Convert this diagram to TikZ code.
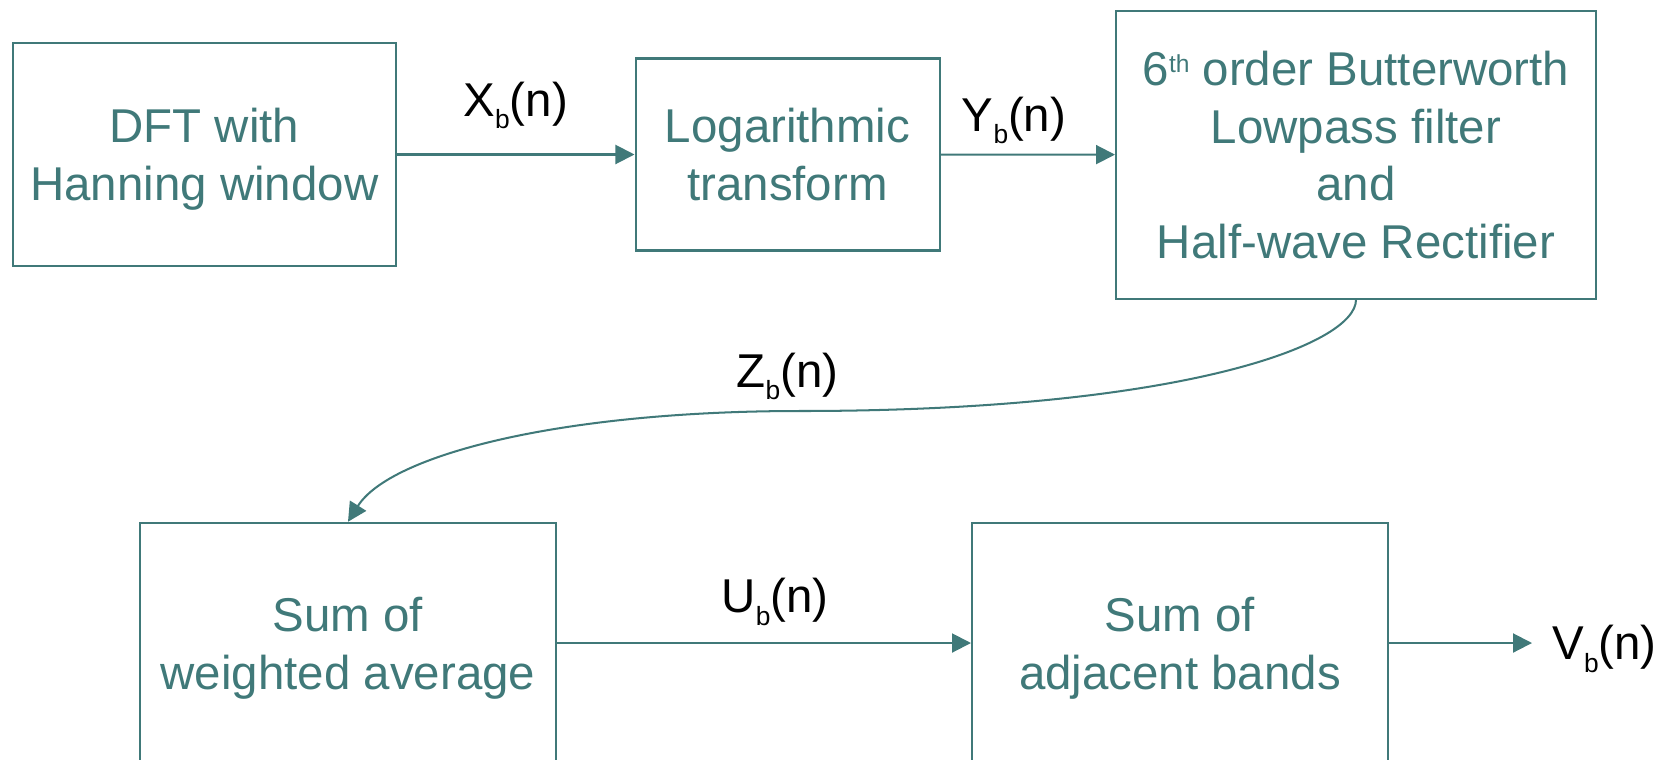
\documentclass[tikz,border=0pt]{standalone}
\usepackage{fontspec}
\setmainfont{Liberation Sans}
\usetikzlibrary{arrows.meta}
\definecolor{boxteal}{RGB}{64,121,121}
\def\bsub{\raisebox{-7.2pt}{\fontsize{15}{15}\selectfont b}}
\def\ordth{\raisebox{7.6pt}{\fontsize{14}{14}\selectfont th}}

\begin{document}
\begin{tikzpicture}[x=1cm,y=1cm,font=\fontsize{27}{32.8}\selectfont,
box/.style={draw=boxteal,line width=1.15pt,text=boxteal,align=center,text depth=0pt,inner sep=0pt},
arr/.style={-{Triangle[length=.38cm,width=.38cm]},line width=1.15pt,draw=boxteal,fill=boxteal},
lbl/.style={text=black,inner sep=0pt}]
\useasboundingbox(0,0)rectangle(33.38,-15.18);

\node[box,minimum width=7.66cm,minimum height=4.47cm](dft)at(4.088,-3.09){DFT with\\Hanning window};
\node[box,minimum width=6.08cm,minimum height=3.84cm](log)at(15.75,-3.09){Logarithmic\\transform};
\node[box,minimum width=9.6cm,minimum height=5.76cm](filt)at(27.12,-3.094){6\ordth{} order Butterworth\\Lowpass filter\\and\\Half-wave Rectifier};
\node[box,minimum width=8.32cm,minimum height=4.81cm](wavg)at(6.96,-12.86){Sum of\\weighted average};
\node[box,minimum width=8.32cm,minimum height=4.81cm](adj)at(23.6,-12.86){Sum of\\adjacent bands};
\node[lbl,inner ysep=.3333em,inner xsep=.4cm,anchor=west](vout)at(30.64,-12.984){V\bsub(n)};

\draw[arr](dft)--node[lbl,above=.49cm]{X\bsub(n)}(log);
\draw[arr](log)--node[lbl,above=.19cm,xshift=-.275cm]{Y\bsub(n)}(filt);
\draw[arr,fill=none](filt.south)..controls(27.12,-6.9)and(23.6,-8.22)..(16,-8.22)node[lbl,above=.2cm,xshift=-.25cm]{Z\bsub(n)}
  ..controls(11.2,-8.22)and(7.8,-9.1)..(wavg.north);
\draw[arr](wavg)--node[lbl,above=.33cm,xshift=.22cm]{U\bsub(n)}(adj);
\draw[arr](adj.east)--(adj.east-|vout.west);
\end{tikzpicture}
\end{document}
